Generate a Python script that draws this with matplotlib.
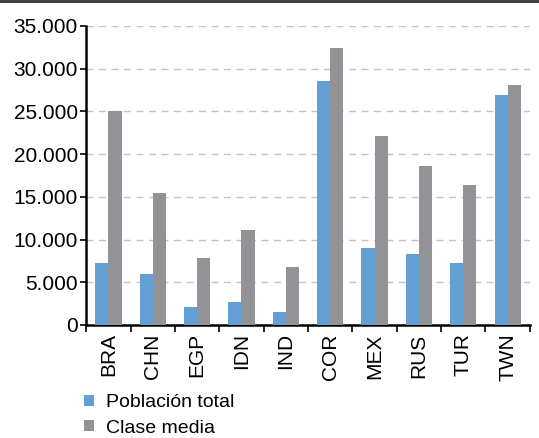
import numpy as np
import matplotlib.pyplot as plt
from matplotlib.lines import Line2D
from matplotlib.ticker import FuncFormatter

plt.rcParams['font.family'] = ['Liberation Sans', 'DejaVu Sans']

paises = ['BRA', 'CHN', 'EGP', 'IDN', 'IND', 'COR', 'MEX', 'RUS', 'TUR', 'TWN']
poblacion_total = [7200, 6000, 2100, 2700, 1500, 28500, 9000, 8300, 7200, 26900]
clase_media = [25000, 15400, 7850, 11100, 6800, 32400, 22100, 18600, 16400, 28100]

azul = '#639fd5'
gris = '#929397'

fig = plt.figure(figsize=(5.39, 4.38), dpi=100)
ax = fig.add_axes([0.16, 0.258, 0.823, 0.683])

x = np.arange(len(paises))
w = 0.295
ax.bar(x - w / 2, poblacion_total, w, color=azul, label='Población total', zorder=3)
ax.bar(x + w / 2, clase_media, w, color=gris, label='Clase media', zorder=3)

ax.set_xlim(-0.5, len(paises) - 0.5)
ax.set_ylim(0, 35000)
ax.set_yticks(np.arange(0, 35001, 5000))
ax.yaxis.set_major_formatter(FuncFormatter(lambda v, p: f'{int(v):,}'.replace(',', '.')))
ax.grid(axis='y', color='#c4c4c4', linestyle=(0, (5, 4)), linewidth=1, zorder=0)

# categorias con ticks en los limites
ax.set_xticks(x)
ax.set_xticklabels(paises, rotation=90, fontsize=15)
ax.tick_params(axis='x', length=0, pad=6)
ax.set_xticks(np.arange(-0.5, len(paises)), minor=True)
ax.tick_params(axis='x', which='minor', length=5, width=1.2, color='black')
ax.tick_params(axis='y', length=4, width=1.2, labelsize=15, pad=2)

for s in ['top', 'right']:
    ax.spines[s].set_visible(False)
ax.spines['left'].set_linewidth(1.8)
ax.spines['bottom'].set_linewidth(1.8)

ax.legend(loc='upper left', bbox_to_anchor=(0.142, 0.118), bbox_transform=fig.transFigure,
          frameon=False, fontsize=14, handlelength=0.5, handleheight=0.5,
          handletextpad=0.6, labelspacing=0.45, borderaxespad=0)

fig.add_artist(Line2D([0, 1], [0.997, 0.997], color='#333333', linewidth=2,
                      transform=fig.transFigure))

fig.savefig('out.png', dpi=100)
